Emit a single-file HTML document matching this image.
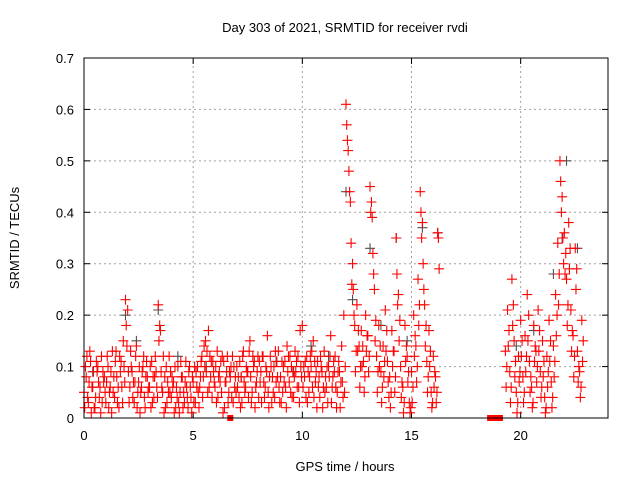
<!DOCTYPE html>
<html><head><meta charset="utf-8"><style>
body{margin:0;background:#fff}
svg{display:block;font-family:"Liberation Sans",sans-serif;font-size:12px}
</style></head><body>
<svg id="chart" width="640" height="480" viewBox="0 0 640 480">
<text x="345" y="32" text-anchor="middle" font-size="13">Day 303 of 2021, SRMTID for receiver rvdi</text>
<text transform="translate(19,238) rotate(-90)" text-anchor="middle" font-size="13">SRMTID / TECUs</text>
<text x="345" y="471" text-anchor="middle" font-size="13">GPS time / hours</text>
<g id="grid"></g>
<g id="ticks"></g>
<g id="grey"></g>
<g id="red"></g>
<rect x="84" y="58" width="524" height="360" fill="none" stroke="#000" stroke-width="1"/>
</svg>
<script>
const xTicks=[0,5,10,15,20];
const yTicks=[0,0.1,0.2,0.3,0.4,0.5,0.6,0.7];
const yTickLabels=["0","0.1","0.2","0.3","0.4","0.5","0.6","0.7"];
const segStarts=[0,19.3];
const segCounts=[163,36];
const redA=[.05,.08,.03,.11,.06,.02,.09,.04,.12,.07,
.03,.10,.06,.13,.04,.08,.02,.11,.15,.23,
.21,.06,.09,.03,.14,.07,.05,.10,.02,.08,
.06,.11,.04,.09,.22,.17,.05,.08,.03,.12,
.04,.07,.02,.10,.05,.08,.03,.06,.09,.04,
.07,.03,.10,.06,.12,.14,.09,.17,.08,.11,
.06,.13,.09,.05,.11,.07,.03,.08,.12,.06,
.10,.04,.08,.13,.06,.09,.15,.05,.11,.07,
.04,.09,.12,.06,.16,.08,.03,.10,.07,.13,
.08,.05,.11,.14,.07,.10,.04,.09,.12,.17,
.18,.08,.12,.05,.10,.15,.07,.11,.04,.09,
.13,.06,.10,.16,.08,.12,.05,.09,.14,.20,
.61,.52,.42,.30,.18,.22,.14,.17,.11,.20,
.16,.45,.39,.25,.12,.18,.09,.14,.21,.11,
.08,.17,.13,.35,.24,.10,.06,.18,.12,.03,
.09,.20,.14,.27,.44,.38,.22,.11,.17,.05,
.12,.08,.36,
.13,.21,.09,.27,.15,.05,.12,.19,.08,
.16,.24,.11,.06,.18,.13,.21,.09,.15,.04,
.12,.19,.07,.14,.24,.34,.50,.43,.36,.27,
.38,.21,.16,.33,.13,.09,.19];
const redB=[.02,.12,.07,.01,.09,.04,.10,.06,.03,.08,
.07,.02,.09,.05,.11,.03,.12,.06,.10,.18,
.09,.13,.04,.07,.02,.10,.06,.12,.08,.05,
.10,.03,.08,.06,.15,.09,.12,.02,.07,.05,
.08,.01,.06,.03,.11,.02,.07,.04,.10,.01,
.03,.09,.05,.08,.04,.10,.13,.06,.11,.09,
.10,.04,.07,.12,.02,.09,.05,.10,.03,.08,
.06,.11,.03,.07,.10,.04,.08,.12,.02,.09,
.11,.03,.07,.10,.05,.12,.08,.04,.11,.06,
.03,.10,.06,.09,.12,.04,.08,.11,.06,.10,
.06,.11,.03,.08,.13,.04,.09,.06,.12,.02,
.05,.10,.08,.03,.11,.06,.09,.02,.07,.05,
.57,.48,.34,.25,.09,.13,.06,.10,.05,.13,
.09,.40,.32,.15,.05,.10,.03,.08,.13,.07,
.02,.10,.05,.28,.15,.04,.01,.11,.07,.01,
.03,.12,.07,.18,.40,.30,.14,.05,.10,.02,
.06,.03,.35,
.06,.14,.03,.18,.08,.01,.07,.12,.03,
.09,.15,.05,.02,.11,.07,.13,.04,.08,.01,
.06,.11,.02,.08,.16,.22,.46,.35,.28,.18,
.29,.13,.08,.25,.07,.04,.11];
const redC=[.10,.04,.13,.06,.02,.11,.07,.01,.09,.05,
.12,.05,.01,.08,.13,.06,.09,.03,.07,.14,
.03,.10,.07,.12,.05,.01,.09,.04,.11,.06,
.02,.08,.12,.04,.18,.06,.01,.10,.05,.09,
.06,.10,.04,.01,.08,.05,.11,.02,.06,.08,
.10,.06,.02,.11,.08,.15,.05,.12,.04,.07,
.03,.08,.11,.01,.07,.12,.09,.04,.10,.05,
.08,.02,.12,.05,.09,.13,.03,.10,.06,.12,
.07,.12,.04,.09,.02,.10,.05,.13,.08,.03,
.11,.07,.02,.12,.05,.09,.13,.06,.03,.08,
.10,.04,.09,.12,.06,.11,.02,.08,.10,.06,
.08,.03,.12,.06,.09,.02,.11,.07,.04,.10,
.54,.44,.26,.20,.13,.17,.10,.14,.08,.16,
.12,.42,.28,.19,.09,.14,.06,.11,.17,.04,
.05,.13,.08,.22,.19,.07,.03,.14,.09,.02,
.06,.16,.10,.22,.35,.25,.18,.08,.13,.03,
.09,.05,.29,
.10,.17,.06,.22,.11,.03,.09,.15,.05,
.12,.20,.08,.03,.14,.10,.17,.06,.11,.02,
.09,.15,.04,.11,.20,.28,.40,.30,.32,.22,
.33,.17,.12,.29,.10,.06,.15];
const greyHours=[0.4,1.9,2.4,3.4,4.3,5.6,7.2,8.8,9.6,10.4,11.2,12.0,12.3,13.1,13.6,14.3,14.8,15.5,16.2,19.8,20.6,21.5,21.9,22.1,22.6];
const greyValues=[.09,.20,.15,.21,.12,.10,.08,.11,.09,.14,.12,.44,.23,.33,.18,.35,.15,.37,.36,.14,.17,.28,.35,.50,.33];
const zeroHours=[6.7,18.6,18.75,18.9,19.05];
const zeroValues=[0,0,0,0,0];

const NS="http://www.w3.org/2000/svg";
const X0=84,X1=608,Y0=418,Y1=58;
const xs=h=>X0+(h/24)*(X1-X0);
const ys=v=>Y0-(v/0.7)*(Y0-Y1);
function mk(tag,attrs,parent){const e=document.createElementNS(NS,tag);for(const k in attrs)e.setAttribute(k,attrs[k]);parent.appendChild(e);return e;}
const grid=document.getElementById('grid'),ticks=document.getElementById('ticks');
xTicks.forEach(t=>{
  const x=xs(t);
  if(t>0){const g=mk('line',{x1:x,x2:x,y1:Y0,y2:Y1,stroke:'#a0a0a0','stroke-dasharray':'2,3'},grid);
  
  }
  mk('line',{x1:x,x2:x,y1:Y0,y2:Y0-6,stroke:'#000'},ticks);
  mk('line',{x1:x,x2:x,y1:Y1,y2:Y1+6,stroke:'#000'},ticks);
  const l=mk('text',{x:x,y:Y0+22,'text-anchor':'middle','font-size':13},ticks);l.textContent=t;
  
  
});
yTicks.forEach((t,i)=>{
  const y=ys(t);
  if(t>0&&t<0.7){const g=mk('line',{x1:X0,x2:X1,y1:y,y2:y,stroke:'#a0a0a0','stroke-dasharray':'2,3'},grid);
  
  }
  mk('line',{x1:X0,x2:X0+6,y1:y,y2:y,stroke:'#000'},ticks);
  mk('line',{x1:X1,x2:X1-6,y1:y,y2:y,stroke:'#000'},ticks);
  const l=mk('text',{x:X0-10,y:y+5,'text-anchor':'end','font-size':13},ticks);l.textContent=yTickLabels[i];
  
  
});
function cross(g,h,v,col,name){
  const x=xs(h),y=ys(v);
  const p=mk('path',{d:`M${x-5},${y}h10M${x},${y-5}v10`,stroke:col,'stroke-width':1.1,fill:'none'},g);
  
  
}
const greyG=document.getElementById('grey'),redG=document.getElementById('red');
greyHours.forEach((h,i)=>cross(greyG,h,greyValues[i],'#505050','grey-point'));
let idx=0;
segStarts.forEach((s,si)=>{
  for(let k=0;k<segCounts[si];k++){
    const h=s+k*0.1;
    cross(redG,h,redA[idx],'#ff0000','red-point');
    cross(redG,h+0.033,redB[idx],'#ff0000','red-point');
    cross(redG,h+0.066,redC[idx],'#ff0000','red-point');
    idx++;
  }
});
zeroHours.forEach((h,i)=>{
  const r=mk('rect',{x:xs(h)-3,y:ys(zeroValues[i])-3,width:6,height:6,fill:'#ff0000'},redG);
  
  
});
</script>
</body></html>
